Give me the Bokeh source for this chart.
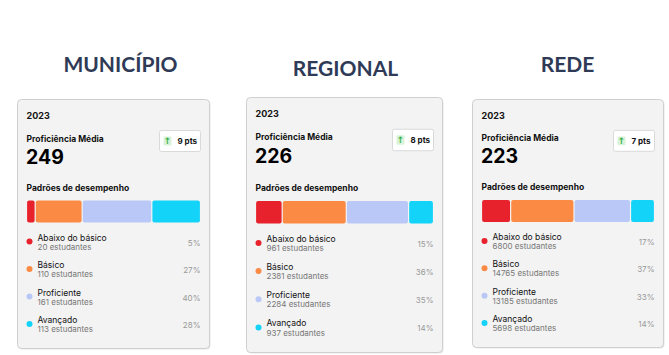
from bokeh.plotting import figure
from bokeh.models import Range1d
from bokeh.core.properties import value
from bokeh.embed import file_html
from bokeh.resources import INLINE

# ---------------- data ----------------
regions = ["MUNICÍPIO", "REGIONAL", "REDE"]
year = "2023"
proficiencia = [249, 226, 223]
delta_pts = [9, 8, 7]
levels = ["Abaixo do básico", "Básico", "Proficiente", "Avançado"]
students_municipio = [20, 110, 161, 113]
students_regional = [961, 2381, 2284, 937]
students_rede = [6800, 14765, 13185, 5698]
pct_municipio = [5, 27, 40, 28]
pct_regional = [15, 36, 35, 14]
pct_rede = [17, 37, 33, 14]

students = [students_municipio, students_regional, students_rede]
pcts = [pct_municipio, pct_regional, pct_rede]

# ---------------- layout / style ----------------
level_colors = ["#e8222c", "#fb8b44", "#b9c8f6", "#13d3f8"]
card_left = [17, 246, 472]
card_top = [99, 97, 99]
card_w = [192, 196, 191]
card_h = [249, 255, 248]
title_x = [120, 345, 567]
title_y = [63, 67, 63]

FONT = "Inter"
W, H = 669, 355
p = figure(width=W, height=H, output_backend="svg", toolbar_location=None,
           x_range=Range1d(0, W), y_range=Range1d(H, 0),
           min_border=0, outline_line_color=None)
p.axis.visible = False
p.grid.visible = False
p.background_fill_color = "white"
p.border_fill_color = "white"

# titles
p.text(x=title_x, y=title_y, text=regions, text_font=value("Lato"),
       text_font_style="bold", text_font_size="21px", text_color="#2f3b56",
       text_align="center", text_baseline="middle")

for c in range(3):
    L, T, Wc, Hc = card_left[c], card_top[c], card_w[c], card_h[c]
    s = Hc / 249.0
    R = L + Wc
    # shadow + card
    p.quad(left=[L + 1], right=[R + 1], top=[T + 1], bottom=[T + Hc + 1],
           fill_color="#e6e6e6", line_color=None, border_radius=4)
    p.quad(left=[L], right=[R], top=[T], bottom=[T + Hc],
           fill_color="#f3f3f3", line_color="#cfcfcf", line_width=1,
           border_radius=4)
    # header
    p.text(x=[L + 9], y=[T + 16 * s], text=[year], text_font=value(FONT),
           text_font_style="bold", text_font_size="9px", text_color="#111111",
           text_baseline="middle")
    p.text(x=[L + 9], y=[T + 39 * s], text=["Proficiência Média"],
           text_font=value(FONT), text_font_style="bold", text_font_size="8.5px",
           text_color="#111111", text_baseline="middle")
    p.text(x=[L + 8.5], y=[T + 56.5 * s], text=[str(proficiencia[c])],
           text_font=value(FONT), text_font_style="bold", text_font_size="19.5px",
           text_color="#000000", text_baseline="middle")
    # badge
    bl, br = R - 50, R - 9
    bt, bb = T + 31 * s, T + 52 * s
    p.quad(left=[bl], right=[br], top=[bt], bottom=[bb], fill_color="white",
           line_color="#d9d9d9", line_width=1, border_radius=2)
    p.quad(left=[bl + 4], right=[bl + 12], top=[bt + 6], bottom=[bb - 6],
           fill_color="#d9f3da", line_color=None, border_radius=1)
    p.text(x=[bl + 8], y=[(bt + bb) / 2], text=["↑"], text_font=value("DejaVu Sans"),
           text_font_style="bold", text_font_size="9px", text_color="#35b049",
           text_align="center", text_baseline="middle")
    p.text(x=[bl + 18], y=[(bt + bb) / 2], text=[f"{delta_pts[c]} pts"],
           text_font=value(FONT), text_font_style="bold", text_font_size="8px",
           text_color="#111111", text_baseline="middle")
    # section title
    p.text(x=[L + 9], y=[T + 88 * s], text=["Padrões de desempenho"],
           text_font=value(FONT), text_font_style="bold", text_font_size="8.5px",
           text_color="#111111", text_baseline="middle")
    # stacked bar
    x0, x1 = L + 9, R - 9
    tot = sum(pcts[c])
    lefts, rights = [], []
    acc = 0
    for v in pcts[c]:
        a = x0 + (x1 - x0) * acc / tot
        acc += v
        b = x0 + (x1 - x0) * acc / tot
        lefts.append(a + 0.6)
        rights.append(b - 0.6)
    p.quad(left=lefts, right=rights, top=[T + 101 * s] * 4,
           bottom=[T + 123 * s] * 4, fill_color=level_colors, line_color=None,
           border_radius=2)
    # legend
    step = 27.5
    ly = [T + (138 + step * i) * s for i in range(4)]
    sy = [T + (147 + step * i) * s for i in range(4)]
    dy = [T + (142 + step * i) * s for i in range(4)]
    py = [T + (143 + step * i) * s for i in range(4)]
    p.scatter(x=[L + 12] * 4, y=dy, size=6, marker="circle",
              fill_color=level_colors, line_color=None)
    p.text(x=[L + 20] * 4, y=ly, text=levels, text_font=value(FONT),
           text_font_size="8.5px", text_color="#111111", text_baseline="middle")
    p.text(x=[L + 20] * 4, y=sy, text=[f"{n} estudantes" for n in students[c]],
           text_font=value(FONT), text_font_size="8px", text_color="#777777",
           text_baseline="middle")
    p.text(x=[R - 9] * 4, y=py, text=[f"{v}%" for v in pcts[c]],
           text_font=value(FONT), text_font_size="8px", text_color="#999999",
           text_align="right", text_baseline="middle")

open("out.html", "w").write(file_html(p, INLINE))
